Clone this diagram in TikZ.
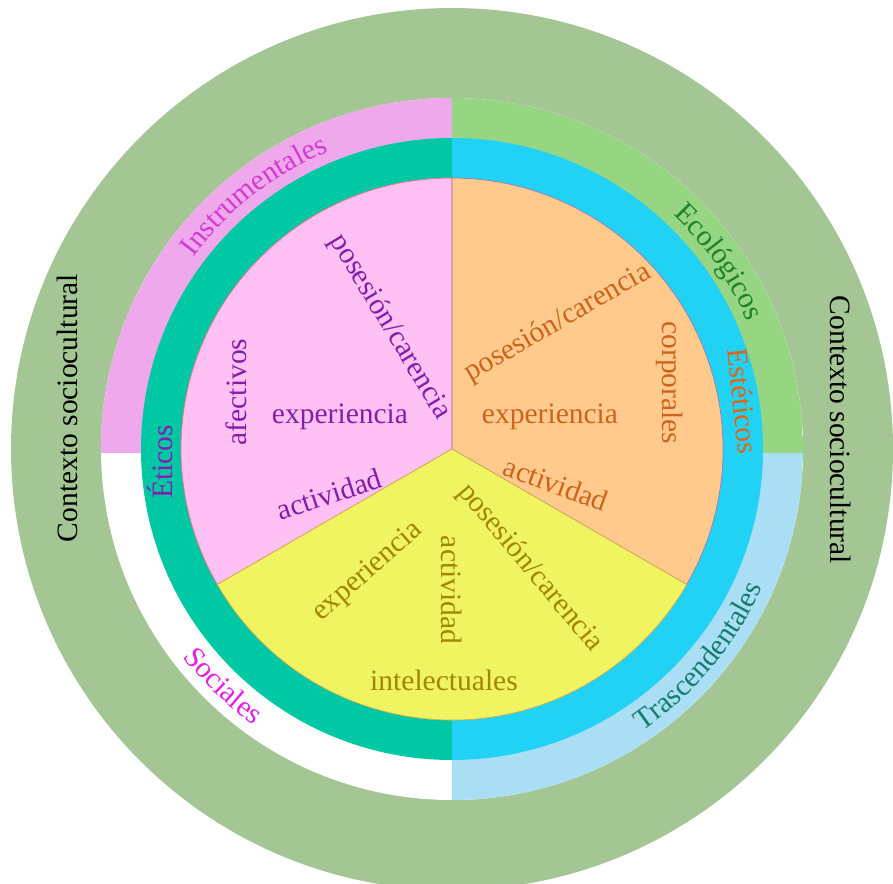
\documentclass[tikz,border=0pt]{standalone}
\usepackage{fontspec}
\setmainfont{Liberation Serif}
\usepackage{tikz}
\usetikzlibrary{decorations.text}
\definecolor{ctxgreen}{RGB}{164,198,149}
\definecolor{instpink}{RGB}{240,168,236}
\definecolor{ecogreen}{RGB}{150,213,130}
\definecolor{trasblue}{RGB}{170,222,244}
\definecolor{eticteal}{RGB}{0,200,164}
\definecolor{estcyan}{RGB}{34,210,244}
\definecolor{afecpink}{RGB}{255,192,244}
\definecolor{corporange}{RGB}{255,202,140}
\definecolor{intelyellow}{RGB}{240,244,96}
\definecolor{afectxt}{RGB}{130,30,170}
\definecolor{corptxt}{RGB}{205,100,30}
\definecolor{inteltxt}{RGB}{160,135,0}
\definecolor{insttxt}{RGB}{210,60,210}
\definecolor{ecotxt}{RGB}{30,130,40}
\definecolor{esttxt}{RGB}{225,100,20}
\definecolor{etictxt}{RGB}{130,30,180}
\definecolor{soctxt}{RGB}{230,30,230}
\definecolor{trastxt}{RGB}{20,125,110}
\newcommand{\lblfont}{\fontsize{16.8}{19}\selectfont}

\begin{document}
\begin{tikzpicture}[
        x=0.02cm, y=0.02cm,
        lbl/.style={font=\lblfont, inner sep=0pt},
        sector/.style={line width=0.4pt},
        arclbl/.style 2 args={decorate, decoration={text along path, text align=center, text color=#1, text={|\lblfont|#2}}}
    ]
        \clip (-452,-434) rectangle (441,449);

        % Outer ring: context
        \fill[ctxgreen] (0,0) circle (441);
        \fill[white] (0,0) circle (351);

        % Quadrant ring
        \begin{scope}
            \clip (0,0) circle (351);
            \fill[instpink] (-351,-4) rectangle (0,351);
            \fill[ecogreen] (0,-4) rectangle (351,351);
            \fill[trasblue] (0,-4) rectangle (351,-351);
        \end{scope}

        % Half ring
        \fill[eticteal] (0,0) -- (90:311) arc[start angle=90, end angle=270, radius=311] -- cycle;
        \fill[estcyan] (0,0) -- (-90:311) arc[start angle=-90, end angle=90, radius=311] -- cycle;

        % Pie sectors
        \filldraw[sector, fill=afecpink, draw=red!45!afecpink] (0,0) -- (90:271) arc[start angle=90, end angle=210, radius=271] -- cycle;
        \filldraw[sector, fill=corporange, draw=blue!40!corporange] (0,0) -- (-30:271) arc[start angle=-30, end angle=90, radius=271] -- cycle;
        \filldraw[sector, fill=intelyellow, draw=brown!60!intelyellow] (0,0) -- (210:271) arc[start angle=210, end angle=330, radius=271] -- cycle;

        % Curved labels in the quadrant ring
        \path[arclbl={insttxt}{Instrumentales}] (160:322) arc[start angle=160, end angle=96, radius=322];
        \path[arclbl={ecotxt}{Ecológicos}] (65:322) arc[start angle=65, end angle=5, radius=322];
        \path[arclbl={trastxt}{Trascendentales}] (-80:340) arc[start angle=-80, end angle=0, radius=340];
        \path[arclbl={soctxt}{Sociales}] (196:340) arc[start angle=196, end angle=256, radius=340];

        % Context labels
        \node[lbl, rotate=90] (ctxleft) at (-385,41) {Contexto sociocultural};
        \node[lbl, rotate=-90] (ctxright) at (389,19) {Contexto sociocultural};

        % Half ring labels
        \node[lbl, rotate=90, text=etictxt] (eticos) at (-292,-13) {Éticos};
        \node[lbl, rotate=-84, text=esttxt] (esteticos) at (291,48) {Estéticos};

        % Sector: afectivos
        \node[lbl, rotate=-59, text=afectxt] (afecpos) at (-62,122) {posesión/carencia};
        \node[lbl, rotate=90, text=afectxt] (afectivos) at (-216,57) {afectivos};
        \node[lbl, text=afectxt] (afecexp) at (-112,32) {experiencia};
        \node[lbl, rotate=18, text=afectxt] (afecact) at (-123,-45) {actividad};

        % Sector: corporales
        \node[lbl, rotate=30, text=corptxt] (corppos) at (106,126) {posesión/carencia};
        \node[lbl, rotate=-90, text=corptxt] (corporales) at (218,66) {corporales};
        \node[lbl, text=corptxt] (corpexp) at (98,32) {experiencia};
        \node[lbl, rotate=-20, text=corptxt] (corpact) at (104,-35) {actividad};

        % Sector: intelectuales
        \node[lbl, rotate=-50, text=inteltxt] (intelpos) at (78,-119) {posesión/carencia};
        \node[lbl, rotate=-90, text=inteltxt] (intelact) at (0,-141) {actividad};
        \node[lbl, rotate=41, text=inteltxt] (intelexp) at (-84,-123) {experiencia};
        \node[lbl, text=inteltxt] (intelectuales) at (-8,-231) {intelectuales};
    \end{tikzpicture}
\end{document}
